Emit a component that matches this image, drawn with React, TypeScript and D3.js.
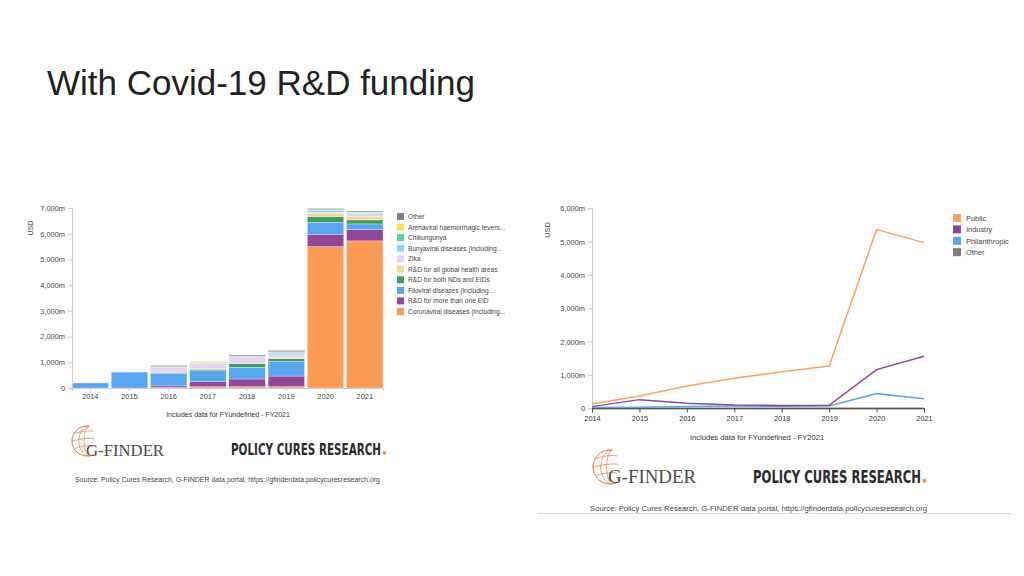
import React, { useEffect, useRef } from 'react';
import * as d3 from 'd3';

const years = ['2014', '2015', '2016', '2017', '2018', '2019', '2020', '2021'];

// left chart - EID funding by disease, stack order bottom -> top
const diseaseNames = [
  'Coronaviral diseases (including...',
  'R&D for more than one EID',
  'Filoviral diseases (including...',
  'R&D for both NDs and EIDs',
  'R&D for all global health areas',
  'Zika',
  'Bunyaviral diseases (including...',
  'Chikungunya',
  'Arenaviral haemorrhagic fevers...',
  'Other',
];
const diseaseColors = ['#fd9b55', '#8e4799', '#5aa5ef', '#3f9a63', '#f5d98b', '#e3d3f5', '#8fd1f3', '#56d59e', '#f9e05a', '#808080'];

const coronaviral = [0, 0, 20, 50, 50, 50, 5500, 5720];
const moreThanOneEid = [0, 0, 60, 195, 300, 415, 480, 440];
const filoviral = [195, 620, 490, 430, 460, 580, 465, 220];
const bothNdsEids = [0, 0, 40, 55, 130, 90, 215, 155];
const allGlobalHealth = [0, 0, 10, 20, 30, 50, 115, 135];
const zika = [0, 0, 190, 200, 220, 105, 60, 65];
const bunyaviral = [0, 0, 10, 10, 20, 70, 65, 65];
const chikungunya = [0, 0, 5, 10, 10, 30, 20, 20];
const arenaviral = [0, 0, 5, 40, 10, 20, 20, 20];
const otherDisease = [0, 0, 40, 10, 50, 50, 40, 40];
const diseaseValues = [coronaviral, moreThanOneEid, filoviral, bothNdsEids, allGlobalHealth, zika, bunyaviral, chikungunya, arenaviral, otherDisease];

// right chart - funding by sector
const sectorNames = ['Public', 'Industry', 'Philanthropic', 'Other'];
const sectorColors = ['#fba35e', '#8e4799', '#5aa5ef', '#7a7a7a'];
const publicFunding = [130, 370, 670, 900, 1100, 1270, 5360, 4970];
const industryFunding = [50, 260, 150, 100, 85, 90, 1160, 1560];
const philanthropicFunding = [25, 30, 55, 70, 60, 70, 440, 290];
const otherFunding = [5, 5, 5, 5, 5, 5, 5, 5];
const sectorValues = [publicFunding, industryFunding, philanthropicFunding, otherFunding];

const sourceText = 'Source: Policy Cures Research, G-FINDER data portal, https://gfinderdata.policycuresresearch.org';
const xAxisLabel = 'Includes data for FYundefined - FY2021';

const FONT = '"Liberation Sans", Arial, sans-serif';

const App: React.FC = () => {
  const svgRef = useRef<SVGSVGElement>(null);

  useEffect(() => {
    if (!svgRef.current) return;
    const svg = d3.select(svgRef.current);
    svg.selectAll('*').remove();

    const fmt = (d: d3.NumberValue) => (+d === 0 ? '0' : d3.format(',')(+d) + 'm');

    // title
    svg.append('text')
      .attr('x', 47)
      .attr('y', 95)
      .attr('font-family', FONT)
      .attr('font-size', 35)
      .attr('fill', '#222')
      .text('With Covid-19 R&D funding');

    // ---------- left: stacked bars ----------
    const table = years.map((y, i) => {
      const row: Record<string, number | string> = { year: y };
      diseaseNames.forEach((n, k) => { row[n] = diseaseValues[k][i]; });
      return row;
    });
    const stack = d3.stack<Record<string, number | string>>().keys(diseaseNames)(table as any);

    const bx = d3.scaleBand().domain(years).range([72, 383]).paddingInner(0.07).paddingOuter(0);
    const by = d3.scaleLinear().domain([0, 7000]).range([388, 208]);

    const left = svg.append('g');
    left.selectAll('g.layer')
      .data(stack)
      .enter().append('g')
      .attr('class', 'layer')
      .attr('fill', (_, i) => diseaseColors[i])
      .selectAll('rect')
      .data(d => d)
      .enter().append('rect')
      .attr('x', d => bx(String(d.data.year)) || 0)
      .attr('width', bx.bandwidth())
      .attr('y', d => by(d[1]))
      .attr('height', d => Math.max(0, by(d[0]) - by(d[1])))
      .attr('stroke', '#fff')
      .attr('stroke-width', 0.3);

    const lyAxis = left.append('g')
      .attr('transform', 'translate(72,0)')
      .call(d3.axisLeft(by).tickValues(d3.range(0, 7001, 1000)).tickFormat(fmt).tickSize(4).tickPadding(3));
    const lxAxis = left.append('g')
      .attr('transform', 'translate(0,388)')
      .call(d3.axisBottom(bx).tickSize(3).tickPadding(3));
    [lyAxis, lxAxis].forEach(a => {
      a.attr('font-family', FONT).attr('font-size', 7.4);
      a.select('.domain').attr('stroke', '#ccc');
      a.selectAll('.tick line').attr('stroke', '#ccc');
      a.selectAll('.tick text').attr('fill', '#444');
    });

    left.append('text')
      .attr('transform', 'translate(33,228) rotate(-90)')
      .attr('text-anchor', 'middle')
      .attr('font-family', FONT).attr('font-size', 7)
      .attr('fill', '#444')
      .text('USD');
    left.append('text')
      .attr('x', 228).attr('y', 417)
      .attr('text-anchor', 'middle')
      .attr('font-family', FONT).attr('font-size', 7)
      .attr('fill', '#333')
      .text(xAxisLabel);

    const legendOrder = diseaseNames.map((n, i) => ({ n, c: diseaseColors[i] })).reverse();
    const leg = left.append('g').attr('transform', 'translate(397,213)');
    const legItems = leg.selectAll('g').data(legendOrder).enter().append('g')
      .attr('transform', (_, i) => `translate(0,${i * 10.55})`);
    legItems.append('rect').attr('width', 7).attr('height', 7).attr('fill', d => d.c);
    legItems.append('text')
      .attr('x', 11).attr('y', 6)
      .attr('font-family', FONT).attr('font-size', 6.6)
      .attr('fill', '#444')
      .text(d => d.n);

    // ---------- right: lines ----------
    const px = d3.scalePoint().domain(years).range([592, 924]);
    const py = d3.scaleLinear().domain([0, 6000]).range([408.3, 208.3]);
    const right = svg.append('g');

    const ryAxis = right.append('g')
      .attr('transform', 'translate(592,0)')
      .call(d3.axisLeft(py).tickValues(d3.range(0, 6001, 1000)).tickFormat(fmt).tickSize(4).tickPadding(3));
    ryAxis.attr('font-family', FONT).attr('font-size', 7.4);
    ryAxis.select('.domain').attr('stroke', '#ccc');
    ryAxis.selectAll('.tick line').attr('stroke', '#ccc');
    ryAxis.selectAll('.tick text').attr('fill', '#444');

    const line = d3.line<number>()
      .x((_, i) => px(years[i]) || 0)
      .y(d => py(d));
    right.selectAll('path.series')
      .data(sectorValues.slice().reverse())
      .enter().append('path')
      .attr('class', 'series')
      .attr('d', d => line(d))
      .attr('fill', 'none')
      .attr('stroke', (_, i) => sectorColors[sectorColors.length - 1 - i])
      .attr('stroke-width', 1.5);

    const rxAxis = right.append('g')
      .attr('transform', 'translate(0,408.3)')
      .call(d3.axisBottom(px).tickSize(4).tickPadding(3));
    rxAxis.attr('font-family', FONT).attr('font-size', 7.4);
    rxAxis.select('.domain').attr('stroke', '#444');
    rxAxis.selectAll('.tick line').attr('stroke', '#444');
    rxAxis.selectAll('.tick text').attr('fill', '#333');

    right.append('text')
      .attr('transform', 'translate(550,230) rotate(-90)')
      .attr('text-anchor', 'middle')
      .attr('font-family', FONT).attr('font-size', 7.4)
      .attr('fill', '#444')
      .text('USD');
    right.append('text')
      .attr('x', 757).attr('y', 440)
      .attr('text-anchor', 'middle')
      .attr('font-family', FONT).attr('font-size', 7.6)
      .attr('fill', '#333')
      .text(xAxisLabel);

    const rleg = right.append('g').attr('transform', 'translate(953,214)');
    const rItems = rleg.selectAll('g').data(sectorNames).enter().append('g')
      .attr('transform', (_, i) => `translate(0,${i * 11.4})`);
    rItems.append('rect').attr('width', 8).attr('height', 8).attr('fill', (_, i) => sectorColors[i]);
    rItems.append('text')
      .attr('x', 13).attr('y', 7)
      .attr('font-family', FONT).attr('font-size', 7.4)
      .attr('fill', '#444')
      .text(d => d);

    // ---------- logos & source ----------
    const drawLogos = (gx: number, gy: number, r: number, gText: { x: number; y: number; s: number; w: number },
      pcr: { x: number; y: number; s: number; w: number }, src: { x: number; y: number; s: number; w: number }) => {
      const g = svg.append('g');
      const globe = g.append('g').attr('fill', 'none').attr('stroke', '#e58a5c').attr('stroke-width', 0.8);
      const arc = d3.arc();
      globe.append('path')
        .attr('transform', `translate(${gx},${gy})`)
        .attr('d', arc({ innerRadius: r, outerRadius: r, startAngle: 0.15, endAngle: -Math.PI * 1.15 }) as string);
      [0.35, 0.7].forEach(k => {
        globe.append('path')
          .attr('d', `M${gx + r * 0.15},${gy - r} A${r * k},${r} 0 0 0 ${gx + r * 0.15},${gy + r}`);
      });
      [-0.5, 0, 0.5].forEach(k => {
        const yy = gy + k * r;
        const half = Math.sqrt(1 - k * k) * r;
        globe.append('path').attr('d', `M${gx - half},${yy} Q${gx},${yy - r * 0.25} ${gx + half * 0.5},${yy - r * 0.15}`);
      });
      g.append('text')
        .attr('x', gText.x).attr('y', gText.y)
        .attr('font-family', '"Liberation Serif", serif').attr('font-size', gText.s)
        .attr('fill', '#4a4a4a')
        .attr('textLength', gText.w).attr('lengthAdjust', 'spacingAndGlyphs')
        .text('G-FINDER');
      g.append('text')
        .attr('x', pcr.x).attr('y', pcr.y)
        .attr('font-family', '"Liberation Sans Narrow", "DejaVu Sans Condensed", sans-serif')
        .attr('font-weight', 'bold').attr('font-size', pcr.s)
        .attr('fill', '#2b2b2b')
        .attr('textLength', pcr.w - 5).attr('lengthAdjust', 'spacingAndGlyphs')
        .text('POLICY CURES RESEARCH');
      // orange full stop of the logo
      const dot = pcr.s * 0.2;
      g.append('rect')
        .attr('x', pcr.x + pcr.w - dot).attr('y', pcr.y - dot)
        .attr('width', dot).attr('height', dot)
        .attr('fill', '#f0883e');
      g.append('text')
        .attr('x', src.x).attr('y', src.y)
        .attr('font-family', FONT).attr('font-size', src.s)
        .attr('fill', '#444')
        .attr('textLength', src.w).attr('lengthAdjust', 'spacingAndGlyphs')
        .text(sourceText);
    };

    drawLogos(87, 441, 15,
      { x: 86, y: 456, s: 16, w: 78 },
      { x: 231, y: 454.5, s: 15.5, w: 155 },
      { x: 75, y: 482, s: 6.3, w: 305 });
    drawLogos(610, 467, 17,
      { x: 608, y: 483, s: 19, w: 88 },
      { x: 753, y: 482.5, s: 17, w: 173 },
      { x: 590, y: 511, s: 7, w: 337 });

    svg.append('line')
      .attr('x1', 538).attr('x2', 1012)
      .attr('y1', 513.5).attr('y2', 513.5)
      .attr('stroke', '#ddd').attr('stroke-width', 1);
  }, []);

  return (
    <svg ref={svgRef} width={1024} height={576}
      style={{ position: 'absolute', left: 0, top: 0, background: '#fff' }} />
  );
};

export default App;
